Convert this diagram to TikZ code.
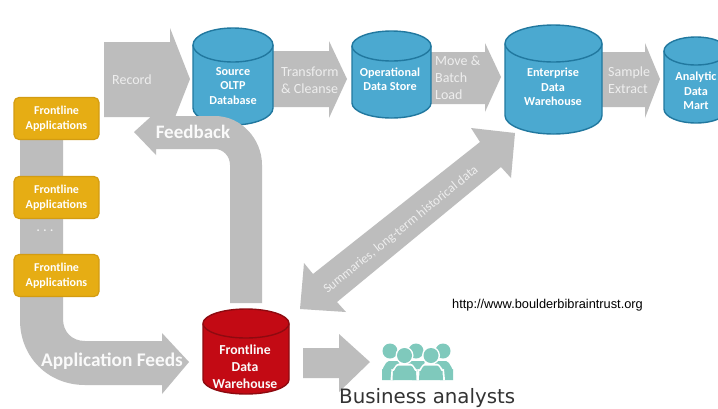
\documentclass[tikz,border=0pt]{standalone}
\usepackage{fontspec}
\setmainfont{Carlito}
\newfontfamily\urlfont{Liberation Sans}
\newfontfamily\capfont{DejaVu Sans}
\definecolor{band}{HTML}{BDBDBD}
\definecolor{bluefill}{HTML}{4BA9D0}
\definecolor{blueedge}{HTML}{21789F}
\definecolor{redfill}{HTML}{C30A14}
\definecolor{rededge}{HTML}{8E0A10}
\definecolor{appfill}{HTML}{E6AD14}
\definecolor{appedge}{HTML}{D39C12}
\definecolor{teal}{HTML}{7FC9BC}
\tikzset{
  flow/.style={fill=band,draw=none},
  applabel/.style={font=\bfseries\fontsize{12}{14.5}\selectfont,text=white,align=center},
  dblabel/.style={font=\bfseries\fontsize{12.2}{14.3}\selectfont,text=white,align=center},
  flowlabel/.style={font=\fontsize{14}{17}\selectfont,text=white!75!band},
  biglabel/.style={font=\bfseries\selectfont,text=white!92!band},
}
\begin{document}
\begin{tikzpicture}[x=1pt,y=-1pt,line join=round]
  \clip (0,0) rectangle (718,408);
  \fill[white] (0,0) rectangle (718,408);
  % straight block arrows
  \foreach \xl/\yt/\yb/\xh/\yht/\yhb/\xt/\yc in {104/42/117/170/28/130/190/79,
    273/51/107/329/41/118/347/79,431/52/104/485/43/112/501/77,
    602/52/107/645/43/118/660/79,303/348/378/339/334/392/370/362}
  \fill[flow] (\xl,\yt)--(\xh,\yt)--(\xh,\yht)--(\xt,\yc)--(\xh,\yhb)--(\xh,\yb)--(\xl,\yb)--cycle;
  % bent band from the applications
  \fill[flow] (20,140)--(20,320) .. controls (20,357) and (48,385) .. (85,385)--(162,385)--(162,394)
    --(189,362)--(162,333)--(162,341)--(85,341) .. controls (72,341) and (63,332) .. (63,319)--(63,140)--cycle;
  % cylinders
  \foreach \xl/\xr/\yt/\ye/\yb/\cf/\ce in {193/273/28/62/125/bluefill/blueedge,
    352/431/31/61/118/bluefill/blueedge,505/602/25/62/134/bluefill/blueedge,
    664/728/37/65/123/bluefill/blueedge,203/289/309/338/394/redfill/rededge}
  {
    \pgfmathsetmacro{\rx}{(\xr-\xl)/2}
    \pgfmathsetmacro{\ry}{(\ye-\yt)/2}
    \pgfmathsetmacro{\ym}{\yt+\ry}
    \pgfmathsetmacro{\ys}{\yb-\ry}
    \draw[fill=\cf,draw=\ce,line width=1.4pt] (\xl,\ym)--(\xl,\ys) arc [start angle=180,end angle=0,x radius=\rx,y radius=\ry]--(\xr,\ym)
      arc [start angle=0,end angle=-180,x radius=\rx,y radius=\ry]--cycle;
    \draw[draw=\ce,line width=1.4pt] (\xl,\ym) arc [start angle=180,end angle=0,x radius=\rx,y radius=\ry];
  }
  % feedback arrow sits over the source database
  \fill[flow] (230,303)--(230,165) .. controls (230,156) and (223,149) .. (215,149)--(156,149)--(156,155)
    --(134,132)--(156,112)--(156,116)--(215,116) .. controls (241,116) and (262,139) .. (262,165)--(262,303)--cycle;
  % double arrow
  \fill[flow] (300,309)--(304,263)--(313,274)--(480,142)--(471,128)--(515,133)--(511,178)--(501,167)--(337,302)--(346,312)--cycle;
  % application boxes
  \foreach \nm/\yy in {appa/118.5,appb/197.5,appc/275.5}
  \node[applabel,name=\nm,fill=appfill,draw=appedge,line width=1.2pt,rounded corners=5pt,minimum width=85pt,minimum height=42pt,inner sep=0pt] at (56.5,\yy) {Frontline\\Applications};
  \node[text=white!80!band,font=\bfseries\fontsize{12}{12}\selectfont] (dots) at (45,231) {. . .};
  % labels on the cylinders
  \node[dblabel] (source) at (233,86) {Source\\OLTP\\Database};
  \node[dblabel] (ods) at (390,79) {Operational\\Data Store};
  \node[dblabel] (edw) at (553,87) {Enterprise\\Data\\Warehouse};
  \node[dblabel] (mart) at (696,91) {Analytic\\Data\\Mart};
  \node[biglabel,font=\bfseries\fontsize{13.7}{17}\selectfont,align=center] (fdw) at (245,367) {Frontline\\Data\\Warehouse};
  % labels on the arrows
  \node[flowlabel] (record) at (132,80) {Record};
  \node[flowlabel,anchor=west,align=left,inner sep=0pt] (clean) at (281,80) {Transform\\\& Cleanse};
  \node[flowlabel,anchor=west,align=left,inner sep=0pt] (load) at (435,78) {Move \&\\Batch\\Load};
  \node[flowlabel,anchor=west,align=left,inner sep=0pt] (extract) at (608,80) {Sample\\Extract};
  \node[biglabel,font=\bfseries\fontsize{19}{19}\selectfont] (feedback) at (193,132) {Feedback};
  \node[biglabel,font=\bfseries\fontsize{19.3}{20}\selectfont] (feeds) at (112,361) {Application Feeds};
  \node[flowlabel,rotate=39,font=\fontsize{13}{14}\selectfont] (summary) at (401,230) {Summaries, long-term historical data};
  % people
  \foreach \hx in {390,416,443}
  \fill[teal] (\hx,351) circle (7.5);
  \fill[teal] (382,380)--(382,369) to[out=-90,in=180] (389,361)--(400,361)--(394,380)--cycle;
  \fill[teal] (453,380)--(453,369) to[out=-90,in=0] (446,361)--(434,361)--(440,380)--cycle;
  \fill[teal] (407,361)--(425,361)--(420,380)--(412,380)--cycle;
  \foreach \fx in {404.5,431}
  {
    \fill[white] (\fx,355.5) circle (9);
    \fill[white] (\fx-14,380)--(\fx-13,369) to[out=-70,in=180] (\fx-6,363.5)--(\fx+6,363.5) to[out=0,in=-110] (\fx+13,369)--(\fx+14,380)--cycle;
    \fill[teal] (\fx,355.5) circle (7.5);
    \fill[teal] (\fx-12,380)--(\fx-11.5,371) to[out=-70,in=180] (\fx-6,365.5)--(\fx+6,365.5) to[out=0,in=-110] (\fx+11.5,371)--(\fx+12,380)--cycle;
  }
  % captions
  \node[font=\urlfont\fontsize{12.8}{14}\selectfont,text=black,anchor=west,inner sep=0pt] (source url) at (452,305) {http://www.boulderbibraintrust.org};
  \node[font=\capfont\fontsize{19.8}{20}\selectfont,text=black!80,anchor=base west,inner sep=0pt] (analysts) at (339,403) {Business analysts};
\end{tikzpicture}
\end{document}
